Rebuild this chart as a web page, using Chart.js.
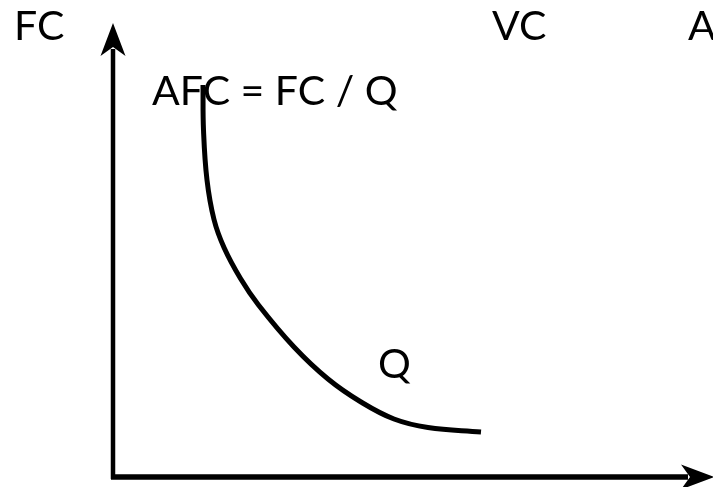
<!DOCTYPE html>
<html>
<head>
<meta charset="utf-8">
<script src="https://cdn.jsdelivr.net/npm/chart.js@4.4.1/dist/chart.umd.min.js"></script>
<style>
    html, body { margin: 0; padding: 0; background: #ffffff; }
    #wrap { width: 713px; height: 487px; }
</style>
</head>
<body>
<div id="wrap"><canvas id="afc_chart"></canvas></div>
<script>
// AFC curve (Q on x, AFC on y, arbitrary units)
var quantity = [1.8, 1.81, 1.88, 2.02, 2.22, 2.55, 2.91, 3.62, 4.3, 4.96, 5.62, 6.3, 7.36];
var afc = [7.84, 6.94, 5.94, 5.15, 4.59, 3.97, 3.44, 2.6, 1.96, 1.5, 1.16, 0.99, 0.9];

// axis extents (arrow tips)
var qAxisEnd = 12;
var afcAxisEnd = 9.08;

// labels
var topLabels = ["FC", "VC", "A"];
var formulaLabel = "AFC = FC / Q";
var qLabel = "Q";

var FONT = "41px Lato, 'Open Sans', sans-serif";

function arrowHead(ctx, tipX, tipY, dirX, dirY) {
    var len = 33, half = 12.5, notch = 24;
    var px = -dirY, py = dirX;
    ctx.beginPath();
    ctx.moveTo(tipX, tipY);
    ctx.lineTo(tipX - dirX * len + px * half, tipY - dirY * len + py * half);
    ctx.lineTo(tipX - dirX * notch, tipY - dirY * notch);
    ctx.lineTo(tipX - dirX * len - px * half, tipY - dirY * len - py * half);
    ctx.closePath();
    ctx.fill();
}

var axesPlugin = {
    id: "arrowAxes",
    afterDraw: function (chart) {
        var ctx = chart.ctx;
        var xs = chart.scales.x;
        var ys = chart.scales.y;
        var ox = xs.getPixelForValue(0);
        var oy = ys.getPixelForValue(0);
        var xTip = xs.getPixelForValue(qAxisEnd) + 1;
        var yTip = ys.getPixelForValue(afcAxisEnd);
        ctx.save();
        ctx.strokeStyle = "#000000";
        ctx.fillStyle = "#000000";
        ctx.lineCap = "butt";

        // y axis
        ctx.lineWidth = 4.5;
        ctx.beginPath();
        ctx.moveTo(ox, oy + 2);
        ctx.lineTo(ox, yTip + 26);
        ctx.stroke();
        arrowHead(ctx, ox, yTip, 0, -1);

        // x axis
        ctx.lineWidth = 5.5;
        ctx.beginPath();
        ctx.moveTo(ox - 2, oy);
        ctx.lineTo(xTip - 26, oy);
        ctx.stroke();
        arrowHead(ctx, xTip, oy, 1, 0);

        // texts
        ctx.font = FONT;
        ctx.textBaseline = "alphabetic";
        ctx.textAlign = "left";
        ctx.fillText(topLabels[0], 14, 40);
        ctx.fillText(topLabels[1], 492, 40);
        ctx.fillText(topLabels[2], 688, 40);
        ctx.fillText(formulaLabel, xs.getPixelForValue(0.78), ys.getPixelForValue(7.44));
        ctx.fillText(qLabel, xs.getPixelForValue(5.3), ys.getPixelForValue(1.98));
        ctx.restore();
    }
};

var points = quantity.map(function (q, i) {
    return { x: q, y: afc[i] };
});

function drawChart() {
    var chartEl = document.getElementById("afc_chart");
    var afcChart = new Chart(chartEl.getContext("2d"), {
        type: "line",
        data: {
            datasets: [
                {
                    label: "AFC",
                    data: points,
                    borderColor: "#000000",
                    borderWidth: 5,
                    borderCapStyle: "butt",
                    borderJoinStyle: "round",
                    pointRadius: 0,
                    tension: 0.4,
                    fill: false,
                },
            ],
        },
        options: {
            responsive: true,
            maintainAspectRatio: false,
            animation: false,
            layout: {
                padding: { left: 113, right: 0, top: 27, bottom: 10 },
            },
            plugins: {
                legend: { display: false },
                tooltip: { enabled: false },
                title: { display: false },
            },
            scales: {
                x: { type: "linear", min: 0, max: 12, display: false },
                y: { type: "linear", min: 0, max: 9, display: false },
            },
        },
        plugins: [axesPlugin],
    });
}

if (document.fonts && document.fonts.load) {
    document.fonts.load(FONT).then(drawChart, drawChart);
} else {
    drawChart();
}
</script>
</body>
</html>
